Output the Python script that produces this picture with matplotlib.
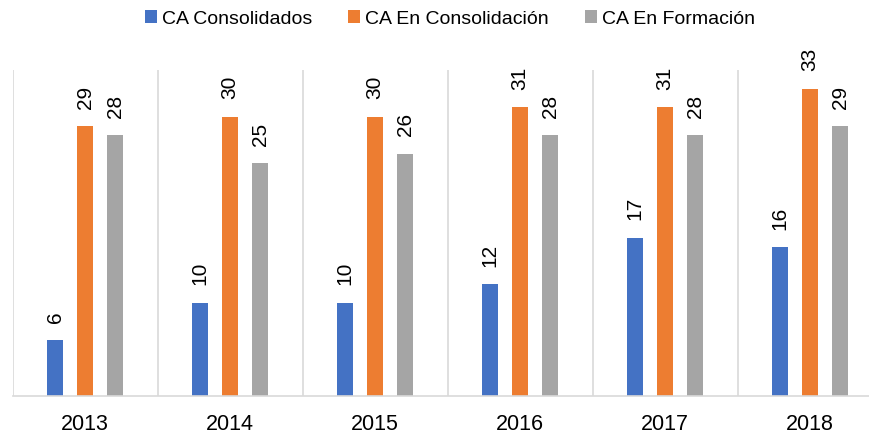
import matplotlib
matplotlib.use("Agg")
import matplotlib.pyplot as plt
import numpy as np

plt.rcParams["font.family"] = ["Liberation Sans", "DejaVu Sans"]

# Datos
anios = ["2013", "2014", "2015", "2016", "2017", "2018"]
consolidados = [6, 10, 10, 12, 17, 16]
en_consolidacion = [29, 30, 30, 31, 31, 33]
en_formacion = [28, 25, 26, 28, 28, 29]
series = ["CA Consolidados", "CA En Consolidación", "CA En Formación"]
colores = ["#4472C4", "#ED7D31", "#A5A5A5"]

fig = plt.figure(figsize=(8.69, 4.38), dpi=100)
ax = fig.add_axes([12.7 / 869, 42 / 438, 870 / 869, 326 / 438])

x = np.arange(len(anios))
ancho = 0.11
paso = 0.207
valores = [consolidados, en_consolidacion, en_formacion]
for i, (vals, nombre, col) in enumerate(zip(valores, series, colores)):
    pos = x + (i - 1) * paso
    bars = ax.bar(pos, vals, width=ancho, color=col, label=nombre, zorder=3)
    for b, v in zip(bars, vals):
        ax.annotate(str(v), (b.get_x() + b.get_width() / 2, v),
                    xytext=(0, 12.5), textcoords="offset points",
                    ha="center", va="bottom", rotation=90, fontsize=15,
                    color="#000000")

# separadores verticales entre categorias
for b in np.arange(-0.5, len(anios), 1.0):
    ax.axvline(b, color="#D9D9D9", lw=1.2, zorder=1)

ax.set_xlim(-0.5, len(anios) - 0.5)
ax.set_ylim(0, 35)
ax.set_xticks(x)
ax.set_xticklabels(anios, fontsize=15.5)
ax.tick_params(axis="x", length=0, pad=13)
ax.set_yticks([])
for s in ["top", "right", "left"]:
    ax.spines[s].set_visible(False)
ax.spines["bottom"].set_color("#D9D9D9")
ax.spines["bottom"].set_linewidth(1.2)
ax.spines["bottom"].set_zorder(4)

fig.legend(loc="center", bbox_to_anchor=(450 / 869, 1 - 19 / 438), ncol=3,
           frameon=False, fontsize=14, handlelength=0.62, handleheight=0.62,
           handletextpad=0.26, columnspacing=1.85, borderpad=0.2)

fig.savefig("out.png", dpi=100)
